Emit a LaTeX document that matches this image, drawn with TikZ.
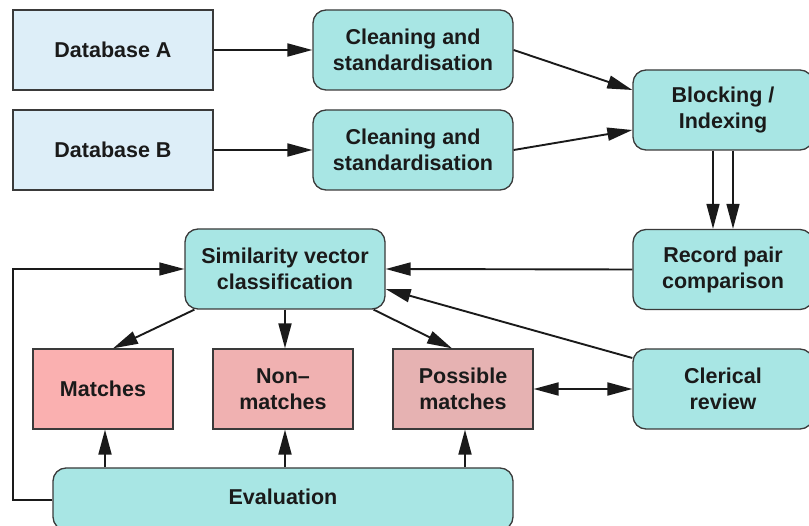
\documentclass[tikz,border=0pt]{standalone}
\usepackage{fontspec}
\setmainfont{Liberation Sans}
\usetikzlibrary{arrows.meta}

\definecolor{dbfill}{HTML}{DDEEF8}
\definecolor{procfill}{HTML}{A8E6E4}
\definecolor{matchfill}{HTML}{FAB0B0}
\definecolor{nonfill}{HTML}{F0B1B1}
\definecolor{possfill}{HTML}{E6B2B2}
\definecolor{edgegray}{HTML}{3A3A3A}
\definecolor{ink}{HTML}{1A1A1A}

\tikzset{
  labelfont/.style={font=\bfseries\fontsize{21.5}{26}\selectfont, text=ink},
  boxbase/.style={draw=edgegray, line width=1.3pt, labelfont, align=center,
    inner sep=0pt},
  dbbox/.style={boxbase, fill=dbfill, minimum width=200pt, minimum height=80pt},
  procbox/.style={boxbase, fill=procfill, rounded corners=13pt,
    minimum width=#1, minimum height=80pt},
  procbox/.default=200pt,
  outbox/.style={boxbase, minimum width=140pt, minimum height=80pt},
  flow/.style={draw=ink, line width=1.9pt,
    -{Triangle[length=25pt,width=13pt]}},
  twoway/.style={draw=ink, line width=1.9pt,
    {Triangle[length=25pt,width=13pt]}-{Triangle[length=25pt,width=13pt]}},
  loopline/.style={draw=ink, line width=1.3pt,
    -{Triangle[length=25pt,width=13pt]}},
}

\begin{document}
\begin{tikzpicture}[x=1pt,y=-1pt]
\useasboundingbox (0,0) rectangle (809,526);
\clip (0,0) rectangle (809,526);

% input databases and cleaning steps
\node[dbbox] (dbA) at (113,50) {Database A};
\node[dbbox] (dbB) at (113,150) {Database B};
\node[procbox] (clA) at (413,50) {Cleaning and\\standardisation};
\node[procbox] (clB) at (413,150) {Cleaning and\\standardisation};

% indexing and comparison
\node[procbox=180pt] (block) at (723,110) {Blocking /\\Indexing};
\node[procbox=180pt] (comp) at (723,269.5) {Record pair\\comparison};
\node[procbox] (simil) at (285,269) {Similarity vector\\classification};

% classification outcomes
\node[outbox, fill=matchfill] (match) at (103,389) {Matches};
\node[outbox, fill=nonfill] (nonm) at (283,389) {Non–\\matches};
\node[outbox, fill=possfill] (poss) at (463,389) {Possible\\matches};
\node[procbox=180pt] (cler) at (723,389) {Clerical\\review};

% evaluation
\node[boxbase, fill=procfill, rounded corners=13pt, minimum width=460pt,
      minimum height=62pt] (eval) at (283,499) {};
\node[labelfont] (evaltext) at (283,497) {Evaluation};

% connectors
\draw[flow] (dbA) -- (clA);
\draw[flow] (dbB) -- (clB);
\draw[flow] (clA.east) -- ([yshift=20pt]block.west);
\draw[flow] (clB.east) -- ([yshift=-20pt]block.west);
\draw[flow, line width=1.5pt] ([xshift=-10pt]block.south) -- ([xshift=-10pt]comp.north);
\draw[flow, line width=1.5pt] ([xshift=10pt]block.south) -- ([xshift=10pt]comp.north);
\draw[flow] (comp.west) -- (simil.east);
\draw[flow] ([yshift=31pt]cler.west) -- ([yshift=-20pt]simil.east);
\draw[twoway] (poss.east) -- (cler.west);

\draw[flow] ([xshift=10pt]simil.south west) -- ([xshift=10pt]match.north);
\draw[flow] (simil.south) -- (simil.south |- nonm.north);
\draw[flow] ([xshift=-12pt]simil.south east) -- ([xshift=-11pt]poss.north);

\draw[flow] ([xshift=2pt]match.south |- eval.north) -- ([xshift=2pt]match.south);
\draw[flow] ([xshift=2pt]nonm.south |- eval.north) -- ([xshift=2pt]nonm.south);
\draw[flow] ([xshift=2pt]poss.south |- eval.north) -- ([xshift=2pt]poss.south);

% feedback loop from evaluation back to classification
\coordinate (loopcorner) at (13,500);
\draw[loopline] ([yshift=-1pt]eval.west) -- (loopcorner) |- (simil.west);
\end{tikzpicture}
\end{document}
